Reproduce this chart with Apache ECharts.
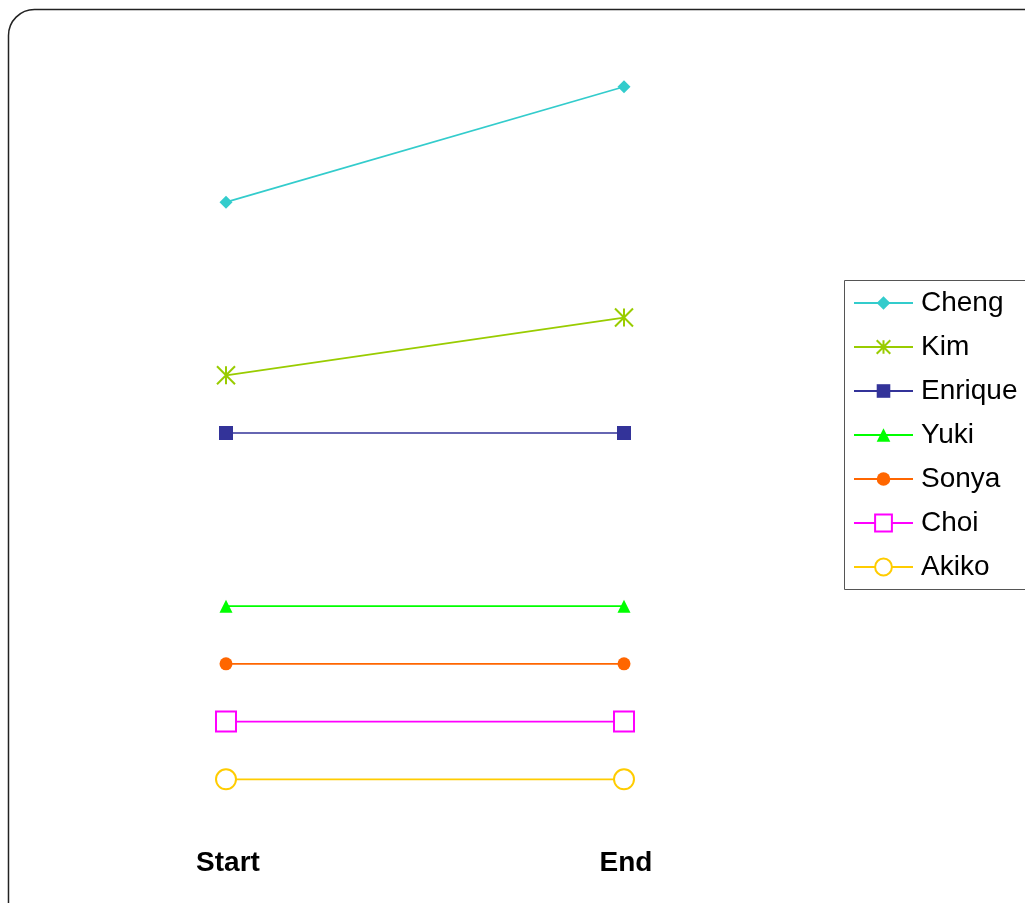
<!DOCTYPE html>
<html>
<head>
<meta charset="utf-8">
<script src="https://cdn.jsdelivr.net/npm/echarts@6/dist/echarts.min.js"></script>
<style>html,body{margin:0;padding:0;background:#fff;}#c{width:1025px;height:903px;}</style>
</head>
<body>
<div id="c"></div>
<script>
const categories = ['Start', 'End'];
const names = ['Cheng', 'Kim', 'Enrique', 'Yuki', 'Sonya', 'Choi', 'Akiko'];
const cheng = [11, 13];
const kim = [8, 9];
const enrique = [7, 7];
const yuki = [4, 4];
const sonya = [3, 3];
const choi = [2, 2];
const akiko = [1, 1];
const values = [cheng, kim, enrique, yuki, sonya, choi, akiko];
const colors = ['#33CCCC', '#99CC00', '#333399', '#00FF00', '#FF6600', '#FF00FF', '#FFCC00'];
const symbols = ['diamond', 'path://M0,0L10,10M10,0L0,10M5,0L5,10', 'rect', 'triangle', 'circle', 'rect', 'circle'];
const sizes = [13, 18, 14, 13, 13, 20, 20];
const hollow = [false, false, false, false, false, true, true];

const series = names.map((n, i) => ({
  name: n,
  type: 'line',
  data: values[i],
  symbol: symbols[i],
  symbolSize: sizes[i],
  showAllSymbol: true,
  lineStyle: { color: colors[i], width: 1.7 },
  itemStyle: {
    color: hollow[i] ? '#ffffff' : colors[i],
    borderColor: colors[i],
    borderWidth: (hollow[i] || i === 1) ? 2 : 0
  },
  emphasis: { disabled: true },
  animation: false
}));

const legendText = { fontSize: 28, color: '#000', fontFamily: 'Liberation Sans, Arial, sans-serif', lineHeight: 28, padding: [0, 0, 0, 3] };
const legendBase = {
  orient: 'vertical',
  left: 853,
  itemWidth: 59,
  itemGap: 16,
  padding: 0,
  selectedMode: false,
  textStyle: legendText
};

const chart = echarts.init(document.getElementById('c'));
chart.setOption({
  animation: false,
  grid: { left: 226, width: 398, top: 29, height: 808 },
  xAxis: {
    type: 'category',
    data: categories,
    boundaryGap: false,
    axisLine: { show: false },
    axisTick: { show: false },
    splitLine: { show: false },
    axisLabel: { margin: 12, fontSize: 28, fontWeight: 'bold', color: '#000', fontFamily: 'Liberation Sans, Arial, sans-serif', padding: [0, 0, 0, 4] }
  },
  yAxis: {
    type: 'value', min: 0, max: 14, show: false
  },
  legend: [
    Object.assign({}, legendBase, { top: 289, itemHeight: 17, data: names.slice(0, 5) }),
    Object.assign({}, legendBase, { top: 509, itemHeight: 21, data: names.slice(5) })
  ],
  graphic: [{
    type: 'rect',
    shape: { x: 8.5, y: 9.5, width: 1100, height: 1000, r: 26 },
    style: { fill: 'none', stroke: '#222', lineWidth: 1.5 },
    silent: true,
    z: -1
  }, {
    type: 'rect',
    shape: { x: 844.5, y: 280.5, width: 300, height: 309 },
    style: { fill: '#fff', stroke: '#555', lineWidth: 1 },
    silent: true,
    z: 0
  }],
  series: series
});
</script>
</body>
</html>
